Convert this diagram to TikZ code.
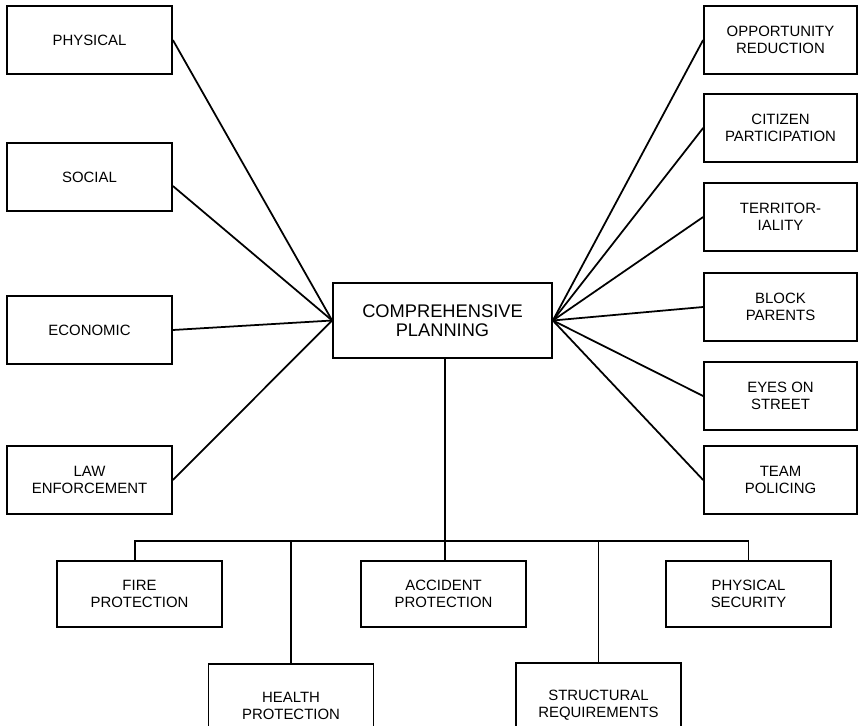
\documentclass[tikz,border=0pt]{standalone}
\usepackage{fontspec}
\setmainfont{Liberation Sans}
\begin{document}
\begin{tikzpicture}[x=0.02cm, y=-0.02cm, line width=1pt,
	factor/.style={draw, align=center, minimum width=3.3cm, minimum height=1.36cm, inner sep=2pt, font=\fontsize{8.5}{9.4}\selectfont},
	measure/.style={factor, minimum width=3.06cm},
	need/.style={factor, minimum height=1.32cm},
	plan/.style={draw, align=center, minimum width=4.38cm, minimum height=1.5cm, font=\fontsize{10.4}{10.6}\selectfont}]
	\useasboundingbox (0,0) rectangle (858,726);
	\clip (0,0) rectangle (858,726);
	\node [plan] (compplan) at (442.5,320.5) {COMPREHENSIVE \\ PLANNING};
	\node [factor] (physical) at (89.5,40) {PHYSICAL};
	\node [factor] (social) at (89.5,177) {SOCIAL};
	\node [factor] (economic) at (89.5,330) {ECONOMIC};
	\node [factor] (lawenf) at (89.5,480) {LAW \\ ENFORCEMENT};
	\node [measure] (opportunity) at (780.5,40) {OPPORTUNITY \\ REDUCTION};
	\node [measure] (citizen) at (780.5,128) {CITIZEN \\ PARTICIPATION};
	\node [measure] (territory) at (780.5,217) {TERRITOR- \\ IALITY};
	\node [measure] (block) at (780.5,307) {BLOCK \\ PARENTS};
	\node [measure] (eyes) at (780.5,396) {EYES ON \\ STREET};
	\node [measure] (team) at (780.5,480) {TEAM \\ POLICING};
	\node [need] (fire) at (139.5,594) {FIRE \\ PROTECTION};
	\node [need] (accident) at (443.5,594) {ACCIDENT \\ PROTECTION};
	\node [need] (security) at (748.5,594) {PHYSICAL \\ SECURITY};
	\node [need, minimum height=1.68cm] (health) at (291,706) {HEALTH \\ PROTECTION};
	\node [need, minimum height=1.68cm] (structural) at (598.5,705) {STRUCTURAL \\ REQUIREMENTS};
	\coordinate (bus) at (445,541);
	\foreach \src in {physical, economic, lawenf}
		\draw (\src.east) -- (compplan.west);
	\draw ([yshift=-0.18cm]social.east) -- (compplan.west);
	\foreach \dst in {opportunity, citizen, territory, block, eyes, team}
		\draw (compplan.east) -- (\dst.west);
	\draw (bus |- compplan.south) -- (bus |- accident.north);
	\draw ([xshift=-0.09cm]fire.north) |- (bus) -| (security.north);
	\draw (health.north) -- (health.north |- bus);
	\draw (structural.north) -- (structural.north |- bus);
\end{tikzpicture}
\end{document}
